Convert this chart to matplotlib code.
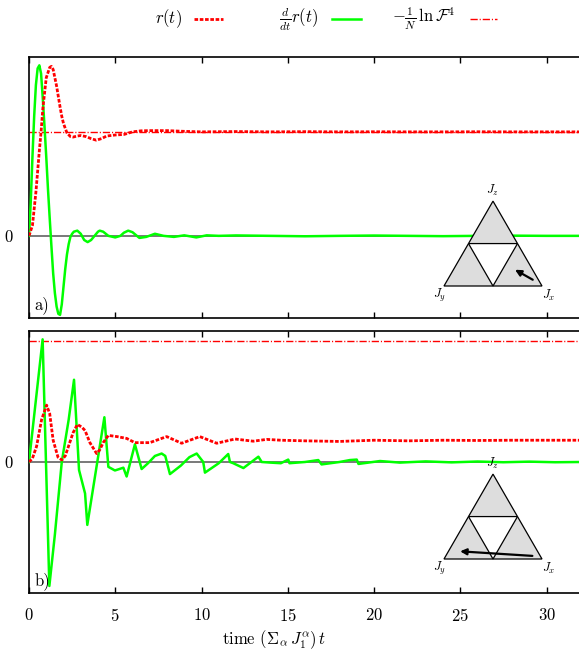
#Relajacion de r(t) y su derivada para dos condiciones iniciales
import numpy as np
import matplotlib.pyplot as plt
from matplotlib.lines import Line2D
from matplotlib.patches import Polygon

plt.rcParams['font.family'] = 'serif'
plt.rcParams['font.serif'] = ['cmr10', 'DejaVu Serif']
plt.rcParams['mathtext.fontset'] = 'cm'
plt.rcParams['axes.formatter.use_mathtext'] = True
plt.rcParams['lines.scale_dashes'] = False
plt.rcParams['font.size'] = 12

# ---- datos (panel a) ----
ta_r = [0, 0.2, 0.4, 0.6, 0.7, 0.8, 1.0, 1.2, 1.3, 1.4, 1.6, 1.8, 1.9, 2.0, 2.2, 2.4, 2.55, 2.8, 3.0,
        3.3, 3.6, 3.9, 4.2, 4.5, 5.0, 5.5, 6.0, 6.5, 7.0, 8.0, 9.0, 10.0, 12.0, 14.0, 16.0, 18.0,
        20.0, 22.0, 24.0, 26.0, 28.0, 30.0, 32.0]
ra = [0, 0.1, 0.42, 0.82, 1.0, 1.22, 1.52, 1.62, 1.63, 1.6, 1.44, 1.24, 1.15, 1.08, 0.99, 0.955, 0.95,
      0.96, 0.965, 0.955, 0.935, 0.92, 0.935, 0.96, 0.97, 0.975, 1.0, 1.01, 1.012, 1.012, 1.005,
      1.0, 1.003, 1.0, 1.002, 1.0, 1.001, 1.0, 1.0, 1.001, 1.0, 1.0, 1.0]

ta_g = [0, 0.1, 0.2, 0.3, 0.4, 0.5, 0.6, 0.7, 0.8, 0.9, 1.0, 1.1, 1.2, 1.3, 1.4, 1.5, 1.6, 1.7, 1.8,
        1.9, 2.0, 2.1, 2.2, 2.3, 2.4, 2.5, 2.6, 2.8, 3.0, 3.2, 3.4, 3.6, 3.8, 4.0, 4.1, 4.3, 4.6,
        5.0, 5.3, 5.5, 5.75, 6.0, 6.4, 6.8, 7.3, 7.8, 8.4, 9.0, 9.7, 10.3, 11.0, 12.0, 14.0, 16.0,
        18.0, 20.0, 22.0, 24.0, 26.0, 28.0, 30.0, 32.0]
ga = [0, 0.32, 0.76, 1.15, 1.45, 1.61, 1.64, 1.56, 1.32, 1.05, 0.76, 0.45, 0.17, -0.1, -0.36, -0.55,
      -0.68, -0.75, -0.76, -0.66, -0.49, -0.32, -0.18, -0.08, -0.01, 0.02, 0.04, 0.05, 0.02, -0.04,
      -0.06, -0.04, 0.0, 0.04, 0.05, 0.04, 0.0, -0.015, 0.0, 0.03, 0.05, 0.035, -0.02, -0.01, 0.02,
      0.0, -0.01, 0.005, -0.015, 0.005, 0.0, 0.004, 0.0, -0.004, 0.0, 0.003, 0.0, -0.003, 0.0,
      0.002, 0.0, 0.0]
fa = 1.0  # -1/N ln F^4, panel a

# ---- datos (panel b) ----
tb_r = [0, 0.2, 0.44, 0.73, 1.02, 1.2, 1.4, 1.68, 1.9, 2.1, 2.29, 2.55, 2.8, 3.05, 3.25, 3.53, 3.92,
        4.1, 4.3, 4.6, 5.1, 5.66, 6.14, 7.0, 7.98, 8.85, 9.9, 10.88, 11.94, 13.0, 13.78, 14.6, 16.0,
        18.0, 20.0, 22.0, 24.0, 26.0, 28.0, 30.0, 32.0]
rb = [0, 0.03, 0.13, 0.35, 0.47, 0.4, 0.18, 0.04, 0.017, 0.05, 0.13, 0.24, 0.31, 0.29, 0.26, 0.16,
      0.07, 0.1, 0.16, 0.22, 0.21, 0.195, 0.16, 0.16, 0.21, 0.155, 0.21, 0.155, 0.19, 0.172, 0.187,
      0.18, 0.175, 0.17, 0.18, 0.175, 0.18, 0.178, 0.18, 0.18, 0.18]

tb_g = [0, 0.79, 1.18, 1.5, 1.9, 2.3, 2.61, 2.9, 3.25, 3.38, 4.37, 4.6, 4.98, 5.2, 5.47, 5.66, 6.14,
        6.53, 6.9, 7.3, 7.69, 7.9, 8.17, 8.8, 9.3, 9.72, 10.1, 10.2, 11.0, 11.55, 11.65, 11.84, 12.43,
        13.3, 13.49, 14.0, 14.6, 15.03, 15.1, 16.0, 16.77, 16.96, 18.0, 18.6, 19.0, 19.1, 20.35, 21.5,
        23.0, 24.5, 26.0, 27.5, 29.0, 30.5, 32.0]
gb = [0, 1.014, -1.025, -0.6, 0.0, 0.35, 0.68, -0.066, -0.26, -0.52, 0.37, -0.04, -0.07, -0.06,
      -0.047, -0.12, 0.146, -0.058, -0.01, 0.05, 0.07, 0.05, -0.1, -0.03, 0.04, 0.07, 0.0, -0.088,
      -0.01, 0.066, 0.0, -0.01, -0.05, 0.044, 0.0, -0.005, -0.01, 0.02, -0.01, 0.0, 0.016, -0.02,
      0.0, 0.016, 0.02, -0.016, 0.008, -0.005, 0.005, -0.003, 0.004, -0.002, 0.003, -0.002, 0.0]
fb = 1.0  # -1/N ln F^4, panel b

# flechas de las condiciones iniciales (coordenadas del triangulo)
arrow_a = [(0.93, 0.05), (0.70, 0.18)]
arrow_b = [(0.93, 0.03), (0.136, 0.08)]

W, H = 579, 652
fig = plt.figure(figsize=(W / 100, H / 100), dpi=100)

red = '#ff0000'
green = '#00ff00'
dot_ls = (0, (2.6, 1.2))
dd_ls = (0, (5.2, 1.4, 0.8, 1.4))


def panel(bot_px, h_px, ylim):
    ax = fig.add_axes([29 / W, 1 - bot_px / H, 552 / W, h_px / H])
    ax.set_xlim(0, 32)
    ax.set_ylim(*ylim)
    ax.axhline(0, color='#555555', lw=1.1, zorder=1)
    ax.set_xticks([0, 5, 10, 15, 20, 25, 30])
    ax.set_yticks([0])
    ax.tick_params(axis='x', direction='in', top=True, length=4, width=1, pad=10)
    ax.tick_params(axis='y', length=0, pad=11)
    for s in ax.spines.values():
        s.set_linewidth(1.2)
    return ax


ax_a = panel(318, 261, (-0.79, 1.72))
ax_b = panel(593, 262, (-1.083, 1.083))

ax_a.plot(ta_g, ga, color=green, lw=1.8, zorder=3)
ax_a.plot(ta_r, ra, color=red, lw=2.0, ls=dot_ls, zorder=4)
ax_a.axhline(fa, color=red, lw=1.0, ls=dd_ls, zorder=2)
ax_a.tick_params(axis='x', labelbottom=False)
ax_a.text(0.01, 0.035, 'a)', transform=ax_a.transAxes, fontsize=12)

ax_b.plot(tb_g, gb, color=green, lw=1.8, zorder=3)
ax_b.plot(tb_r, rb, color=red, lw=2.0, ls=dot_ls, zorder=4)
ax_b.axhline(fb, color=red, lw=1.0, ls=dd_ls, zorder=2)
ax_b.text(0.01, 0.03, 'b)', transform=ax_b.transAxes, fontsize=12)
ax_b.set_xlabel(r'time $(\Sigma_\alpha\, J_1^\alpha)\,t$', fontsize=12)
ax_b.xaxis.set_label_coords(0.444, -0.135)


def triangle(base_px, arrow):
    u = 98.0
    left = 444 - 0.2 * u
    bottom = base_px + 0.2 * u
    ins = fig.add_axes([left / W, 1 - bottom / H, 1.4 * u / W, 1.25 * u / H])
    ins.set_xlim(-0.2, 1.2)
    ins.set_ylim(-0.2, 1.05)
    ins.set_axis_off()
    h = np.sqrt(3) / 2
    ins.add_patch(Polygon([(0, 0), (1, 0), (0.5, h)], closed=True, fc='#dddddd', ec='k', lw=0.9,
                          zorder=5))
    ins.add_patch(Polygon([(0.25, h / 2), (0.75, h / 2), (0.5, 0)], closed=True, fc='white', ec='k',
                          lw=0.9, zorder=6))
    ins.annotate('', xy=arrow[1], xytext=arrow[0],
                 arrowprops=dict(arrowstyle='-|>', color='k', lw=1.6, mutation_scale=9), zorder=7)
    ins.text(0.5, h + 0.11, r'$J_z$', ha='center', va='center', fontsize=9, zorder=8)
    ins.text(-0.05, -0.1, r'$J_y$', ha='center', va='center', fontsize=9, zorder=8)
    ins.text(1.07, -0.1, r'$J_x$', ha='center', va='center', fontsize=9, zorder=8)


triangle(286, arrow_a)
triangle(559, arrow_b)

# leyenda en la parte superior
ly = 1 - 19 / H
entries = [(r'$r(t)$', 182, 194, 223, dict(color=red, lw=2.0, ls=dot_ls)),
           (r'$\frac{d}{dt}r(t)$', 318, 332, 361, dict(color=green, lw=1.8)),
           (r'$-\frac{1}{N}\,\ln\mathcal{F}^4$', 455, 470, 497, dict(color=red, lw=1.0, ls=dd_ls))]
for lab, xr, x0, x1, st in entries:
    fig.text(xr / W, ly, lab, ha='right', va='center', fontsize=12)
    fig.add_artist(Line2D([x0 / W, x1 / W], [ly, ly], transform=fig.transFigure, **st))

plt.savefig('out.png', dpi=100)
